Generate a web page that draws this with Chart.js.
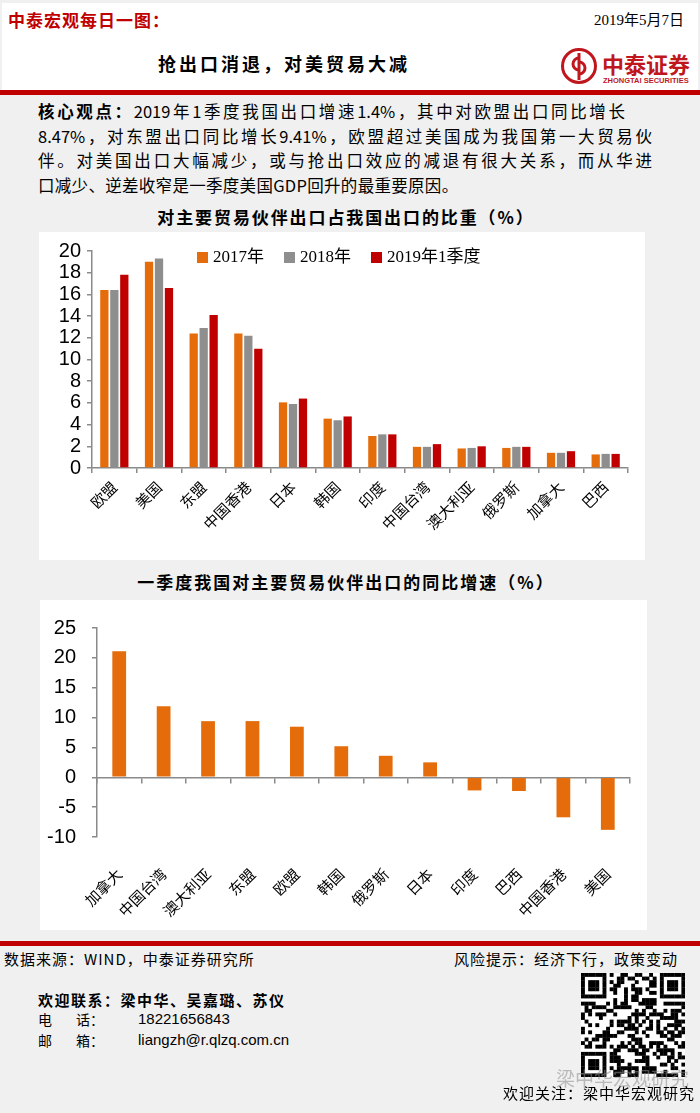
<!DOCTYPE html>
<html>
<head>
<meta charset="utf-8">
<script src="https://cdn.jsdelivr.net/npm/chart.js@4.4.1/dist/chart.umd.min.js"></script>
<style>
  body { margin: 0; }
  #page { position: relative; width: 700px; height: 1113px; background: #f0f0f0; overflow: hidden;
          font-family: "Noto Sans CJK SC", sans-serif; color: #000; }
  .abs { position: absolute; white-space: nowrap; }
  .panel { position: absolute; background: #fff; }
  .just { position: absolute; text-align: justify; text-align-last: justify; }
  .body-line { font-size: 16.5px; line-height: 24px; height: 24px; left: 38px; }
  .legend-item { display: inline-flex; align-items: center; margin-right: 20px; }
  .legend-box { width: 11px; height: 11px; margin-right: 5px; }
</style>
</head>
<body>
<div id="page">
  <!-- header -->
  <div class="panel" style="left:2px;top:3px;width:696px;height:87px;"></div>
  <div class="abs" style="left:8px;top:8px;font-size:17px;line-height:24px;font-weight:bold;color:#c00000;letter-spacing:1px;">中泰宏观每日一图：</div>
  <div class="abs" style="right:16px;top:9px;font-size:15px;line-height:22px;font-family:'Liberation Serif','Noto Sans CJK SC';">2019年5月7日</div>
  <div class="abs" style="left:158px;top:50px;font-size:18px;line-height:26px;font-weight:bold;letter-spacing:3px;">抢出口消退，对美贸易大减</div>
  <svg class="abs" style="left:560px;top:47px;" width="38" height="38" viewBox="0 0 38 38">
    <circle cx="19" cy="19" r="16.5" fill="none" stroke="#c0161d" stroke-width="3"/>
    <path d="M19 6 V33" stroke="#c0161d" stroke-width="3"/>
    <path d="M19 11 A6 6 0 1 0 19 23" fill="none" stroke="#c0161d" stroke-width="3"/>
    <path d="M19 15 A6 6 0 1 1 19 27" fill="none" stroke="#c0161d" stroke-width="3"/>
  </svg>
  <div class="abs" style="left:602px;top:49px;font-size:22px;line-height:28px;font-weight:bold;color:#c0161d;">中泰证券</div>
  <div class="abs" style="left:603px;top:76px;font-size:7.5px;line-height:9px;font-weight:bold;color:#c0161d;font-family:'Liberation Sans';">ZHONGTAI SECURITIES</div>
  <div class="abs" style="left:0;top:90px;width:700px;height:5px;background:#c00000;"></div>

  <!-- key view -->
  <div class="just body-line" style="top:99px;width:587px;"><b>核心观点：</b>2019年1季度我国出口增速1.4%，其中对欧盟出口同比增长</div>
  <div class="just body-line" style="top:124px;width:614px;">8.47%，对东盟出口同比增长9.41%，欧盟超过美国成为我国第一大贸易伙</div>
  <div class="just body-line" style="top:148px;width:614px;">伴。对美国出口大幅减少，或与抢出口效应的减退有很大关系，而从华进</div>
  <div class="abs body-line" style="top:173px;letter-spacing:0.3px;">口减少、逆差收窄是一季度美国GDP回升的最重要原因。</div>

  <!-- chart 1 -->
  <div class="abs" style="left:0;width:692px;text-align:center;top:204px;font-size:17px;line-height:25px;font-weight:bold;letter-spacing:1.9px;">对主要贸易伙伴出口占我国出口的比重（%）</div>
  <div class="panel" style="left:39px;top:232px;width:606px;height:328px;"></div>
  <canvas id="shareChart" class="abs" style="left:39px;top:232px;" width="606" height="328"></canvas>
  <div id="shareLegend" class="abs" style="left:197px;top:245px;font-size:17px;line-height:24px;font-family:'Liberation Serif','Noto Sans CJK SC';"></div>

  <!-- chart 2 -->
  <div class="abs" style="left:0;width:692px;text-align:center;top:569px;font-size:17px;line-height:25px;font-weight:bold;letter-spacing:2px;">一季度我国对主要贸易伙伴出口的同比增速（%）</div>
  <div class="panel" style="left:40px;top:600px;width:607px;height:330px;"></div>
  <canvas id="growthChart" class="abs" style="left:40px;top:600px;" width="607" height="330"></canvas>

  <!-- footer -->
  <div class="abs" style="left:0;top:941px;width:700px;height:5px;background:#c00000;"></div>
  <div class="abs" style="left:4px;top:948px;font-size:15px;line-height:22px;letter-spacing:1px;">数据来源：WIND，中泰证券研究所</div>
  <div class="abs" style="right:22px;top:948px;font-size:15px;line-height:22px;letter-spacing:1px;">风险提示：经济下行，政策变动</div>
  <div class="abs" style="left:38px;top:989px;font-size:15px;line-height:22px;font-weight:bold;letter-spacing:1.5px;">欢迎联系：梁中华、吴嘉璐、苏仪</div>
  <div class="abs" style="left:38px;top:1009px;font-size:14px;line-height:20px;">电</div>
  <div class="abs" style="left:76px;top:1009px;font-size:14px;line-height:20px;">话：</div>
  <div class="abs" style="left:138px;top:1009px;font-size:15px;line-height:20px;font-family:'Liberation Sans';">18221656843</div>
  <div class="abs" style="left:38px;top:1030px;font-size:14px;line-height:20px;">邮</div>
  <div class="abs" style="left:76px;top:1030px;font-size:14px;line-height:20px;">箱：</div>
  <div class="abs" style="left:138px;top:1030px;font-size:15px;line-height:20px;font-family:'Liberation Sans';">liangzh@r.qlzq.com.cn</div>
  <canvas id="qr" class="abs" style="left:581px;top:973px;" width="104" height="104"></canvas>
  <div class="abs" style="left:556px;top:1066px;font-size:19px;line-height:24px;color:rgba(140,140,140,0.55);">梁中华宏观研究</div>
  <div class="abs" style="right:5px;top:1082px;font-size:15px;line-height:22px;letter-spacing:1px;">欢迎关注：梁中华宏观研究</div>
</div>

<script>
// ---- data ----
const shareLabels = ['欧盟', '美国', '东盟', '中国香港', '日本', '韩国', '印度', '中国台湾', '澳大利亚', '俄罗斯', '加拿大', '巴西'];
const seriesNames = ['2017年', '2018年', '2019年1季度'];
const share2017 = [16.4, 19.0, 12.4, 12.4, 6.05, 4.55, 2.95, 1.95, 1.8, 1.85, 1.4, 1.25];
const share2018 = [16.4, 19.3, 12.9, 12.2, 5.9, 4.4, 3.1, 1.95, 1.85, 1.95, 1.4, 1.3];
const share2019Q1 = [17.8, 16.6, 14.1, 11.0, 6.4, 4.75, 3.1, 2.2, 2.0, 1.95, 1.55, 1.3];
const shareTicks = [0, 2, 4, 6, 8, 10, 12, 14, 16, 18, 20];

const growthLabels = ['加拿大', '中国台湾', '澳大利亚', '东盟', '欧盟', '韩国', '俄罗斯', '日本', '印度', '巴西', '中国香港', '美国'];
const growthQ1 = [21.1, 11.9, 9.4, 9.41, 8.47, 5.2, 3.6, 2.5, -2.2, -2.3, -6.7, -8.8];
const growthTicks = [-10, -5, 0, 5, 10, 15, 20, 25];

const ORANGE = '#e46c0a';
const GRAY = '#8e8e8e';
const RED = '#c00000';
const AXIS = '#8a8a8a';
const seriesColors = [ORANGE, GRAY, RED];

Chart.defaults.font.family = '"Liberation Sans", Arial, sans-serif';
Chart.defaults.color = '#000';

const labelFont = { family: '"Noto Sans CJK SC", sans-serif', size: 15 };
const axisGrid = { drawOnChartArea: false, color: AXIS, tickLength: 5, lineWidth: 1.5 };
const axisBorder = { color: AXIS, width: 1.5 };

// share chart
new Chart(document.getElementById('shareChart'), {
  type: 'bar',
  data: {
    labels: shareLabels,
    datasets: [share2017, share2018, share2019Q1].map((d, i) => ({
      label: seriesNames[i],
      data: d,
      backgroundColor: seriesColors[i],
      categoryPercentage: 0.67,
      barPercentage: 0.83,
    })),
  },
  options: {
    responsive: false,
    animation: false,
    layout: { padding: { top: 19, right: 17, left: 0, bottom: 0 } },
    plugins: { legend: { display: false }, tooltip: { enabled: false } },
    scales: {
      x: {
        grid: axisGrid,
        border: axisBorder,
        ticks: { autoSkip: false, minRotation: 45, maxRotation: 45, padding: 5, font: labelFont },
        afterFit(scale) { scale.height = 92; },
      },
      y: {
        min: 0,
        max: 20,
        grid: axisGrid,
        border: axisBorder,
        ticks: { autoSkip: false, padding: 6, font: { size: 20 } },
        afterBuildTicks(scale) { scale.ticks = shareTicks.map(v => ({ value: v })); },
        afterFit(scale) { scale.width = 53; },
      },
    },
  },
});

// legend for the share chart
document.getElementById('shareLegend').innerHTML = seriesNames.map((n, i) =>
  '<span class="legend-item"><span class="legend-box" style="background:' + seriesColors[i] + '"></span>' + n + '</span>'
).join('');

// growth chart
new Chart(document.getElementById('growthChart'), {
  type: 'bar',
  data: {
    labels: growthLabels,
    datasets: [{
      label: '同比增速',
      data: growthQ1,
      backgroundColor: ORANGE,
      categoryPercentage: 1,
      barPercentage: 0.31,
    }],
  },
  options: {
    responsive: false,
    animation: false,
    layout: { padding: { top: 18, right: 17, left: 0, bottom: 0 } },
    plugins: { legend: { display: false }, tooltip: { enabled: false } },
    scales: {
      x: {
        grid: { display: false },
        border: { display: false },
        ticks: { autoSkip: false, minRotation: 45, maxRotation: 45, padding: 20, font: labelFont },
        afterFit(scale) { scale.height = 93; },
      },
      x2: {
        axis: 'x',
        type: 'category',
        position: { y: 0 },
        offset: true,
        grid: Object.assign({ offset: true }, axisGrid),
        border: axisBorder,
        ticks: { display: false },
      },
      y: {
        min: -10,
        max: 25,
        grid: axisGrid,
        border: axisBorder,
        ticks: { autoSkip: false, padding: 16, font: { size: 20 } },
        afterBuildTicks(scale) { scale.ticks = growthTicks.map(v => ({ value: v })); },
        afterFit(scale) { scale.width = 57; },
      },
    },
  },
});

// QR code block (decorative)
(function () {
  const c = document.getElementById('qr').getContext('2d');
  const n = 29, s = 104 / n;
  c.fillStyle = '#fff';
  c.fillRect(0, 0, 104, 104);
  c.fillStyle = '#000';
  const finder = (r0, c0, r, col) => r >= r0 && r < r0 + 7 && col >= c0 && col < c0 + 7;
  for (let r = 0; r < n; r++) {
    for (let col = 0; col < n; col++) {
      let on;
      const f = [[0, 0], [0, n - 7], [n - 7, 0]].find(p => finder(p[0], p[1], r, col));
      if (f) {
        const dr = r - f[0], dc = col - f[1];
        on = dr === 0 || dr === 6 || dc === 0 || dc === 6 || (dr >= 2 && dr <= 4 && dc >= 2 && dc <= 4);
      } else if ((r < 8 && (col < 8 || col > n - 9)) || (r > n - 9 && col < 8)) {
        on = false;
      } else {
        const h = ((r * 73856093) ^ (col * 19349663) ^ (r * col * 83492791)) >>> 0;
        on = (h % 11) < 5;
      }
      if (on) c.fillRect(col * s, r * s, s + 0.3, s + 0.3);
    }
  }
})();
</script>
</body>
</html>
